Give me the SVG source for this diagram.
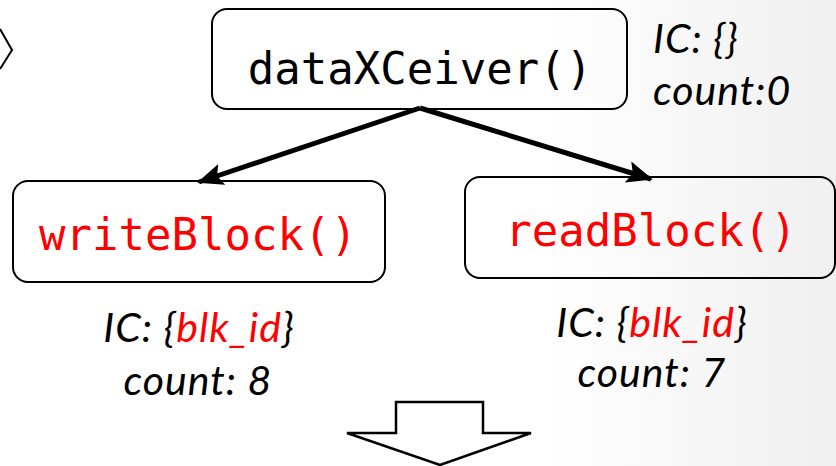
<svg xmlns="http://www.w3.org/2000/svg" width="836" height="466" viewBox="0 0 836 466">
  <defs>
    <linearGradient id="bg" x1="0" y1="0" x2="1" y2="0">
      <stop offset="0" stop-color="#ffffff"/>
      <stop offset="0.65" stop-color="#ffffff"/>
      <stop offset="1" stop-color="#f0f0f0"/>
    </linearGradient>
    <marker id="head" viewBox="0 0 26 22" refX="24" refY="11" markerWidth="26" markerHeight="22" markerUnits="userSpaceOnUse" orient="auto">
      <path d="M0,0 L26,11 L0,22 L5,11 Z" fill="#000"/>
    </marker>
    <style>
      .box { fill: none; stroke: #000; stroke-width: 2; }
      .fn { font-family: "DejaVu Sans Mono", "Liberation Mono", monospace; font-size: 44px; text-anchor: middle; }
      .note { font-family: Lato, "Open Sans", sans-serif; font-style: italic; font-size: 41px; letter-spacing: 1px; fill: #000; }
      .red { fill: #ff0000; }
      .edge { stroke: #000; stroke-width: 5; fill: none; marker-end: url(#head); }
      .block { fill: #fff; stroke: #000; stroke-width: 2.5; stroke-linejoin: miter; }
    </style>
  </defs>

  <rect width="836" height="466" fill="url(#bg)"/>

  <!-- partial arrow at the left edge -->
  <path d="M0,29 L12,50 L0,69" fill="none" stroke="#000" stroke-width="2"/>

  <g id="connectors">
    <line class="edge" x1="420" y1="108" x2="199" y2="182"/>
    <line class="edge" x1="420" y1="108" x2="651" y2="179"/>
  </g>

  <g id="dataXCeiver">
    <rect class="box" x="212" y="9" width="415" height="100" rx="15"/>
    <text class="fn" x="420" y="84">dataXCeiver()</text>
  </g>
  <g id="dataXCeiver-note">
    <text class="note" x="653" y="53">IC: {}</text>
    <text class="note" x="653" y="105">count:0</text>
  </g>

  <g id="writeBlock">
    <rect class="box" x="13" y="181" width="372" height="101" rx="15"/>
    <text class="fn red" x="198" y="250">writeBlock()</text>
  </g>
  <g id="writeBlock-note">
    <text class="note" x="199" y="342" text-anchor="middle">IC: {<tspan class="red">blk_id</tspan>}</text>
    <text class="note" x="198" y="395" text-anchor="middle">count: 8</text>
  </g>

  <g id="readBlock">
    <rect class="box" x="465" y="177" width="370" height="101" rx="15"/>
    <text class="fn red" x="651" y="246">readBlock()</text>
  </g>
  <g id="readBlock-note">
    <text class="note" x="652" y="337" text-anchor="middle">IC: {<tspan class="red">blk_id</tspan>}</text>
    <text class="note" x="652" y="387" text-anchor="middle">count: 7</text>
  </g>

  <!-- downward block arrow -->
  <path class="block" d="M396,402 L483,402 L483,433 L531,433 L440,465 L347,433 L396,433 Z"/>
</svg>
